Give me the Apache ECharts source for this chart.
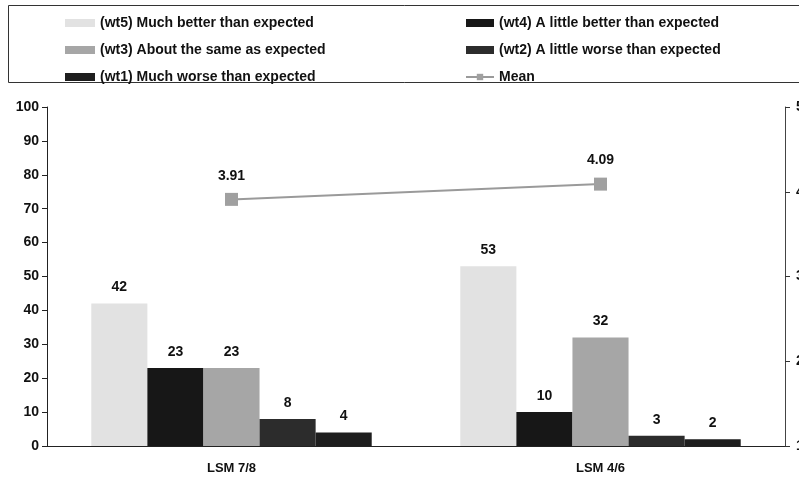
<!DOCTYPE html>
<html><head><meta charset="utf-8">
<script src="https://cdn.jsdelivr.net/npm/echarts@6/dist/echarts.min.js"></script>
<style>html,body{margin:0;padding:0;background:#fff}#c{width:799px;height:480px}</style>
</head><body><div id="c"></div>
<script>
var categories = ['LSM 7/8', 'LSM 4/6'];
var seriesNames = ['(wt5) Much better than expected', '(wt4) A little better than expected', '(wt3) About the same as expected', '(wt2) A little worse than expected', '(wt1) Much worse than expected'];
var wt5 = [42, 53];
var wt4 = [23, 10];
var wt3 = [23, 32];
var wt2 = [8, 3];
var wt1 = [4, 2];
var meanName = 'Mean';
var meanValues = [3.91, 4.09];
var leftTicks = [0, 100, 10];
var rightTicks = [1, 5, 1];

var colors = ['#e2e2e2', '#171717', '#a6a6a6', '#2c2c2c', '#1e1e1e'];
var barData = [wt5, wt4, wt3, wt2, wt1];
var font = 'Liberation Sans, Arial, sans-serif';
var series = barData.map(function (d, i) {
  return {
    name: seriesNames[i], type: 'bar', yAxisIndex: 0, data: d,
    barGap: '0%', barCategoryGap: '24%',
    itemStyle: { color: colors[i] },
    label: { show: true, position: 'top', distance: 9, color: '#111', fontWeight: 'bold', fontSize: 14, fontFamily: font }
  };
});
series.push({
  name: meanName, type: 'line', yAxisIndex: 1, data: meanValues,
  symbol: 'rect', symbolSize: 13,
  lineStyle: { color: '#9a9a9a', width: 2 },
  itemStyle: { color: '#a0a0a0' },
  label: { show: true, position: 'top', distance: 10, color: '#111', fontWeight: 'bold', fontSize: 14, fontFamily: font, formatter: function (p) { return p.value.toFixed(2); } }
});
var legendText = { fontWeight: 'bold', fontSize: 14, fontFamily: font, color: '#111', letterSpacing: 1.2 };
var chart = echarts.init(document.getElementById('c'));
chart.setOption({
  animation: false,
  graphic: [{ type: 'rect', shape: { x: 8.5, y: 5.5, width: 792, height: 77 }, style: { fill: 'none', stroke: '#333', lineWidth: 1 } }],
  legend: [
    { orient: 'vertical', left: 60, top: 11, itemGap: 13, itemWidth: 30, itemHeight: 8, icon: 'rect', textStyle: legendText, data: [seriesNames[0], seriesNames[2], seriesNames[4]] },
    { orient: 'vertical', left: 460, top: 11, itemGap: 13, itemWidth: 28, itemHeight: 8, textStyle: legendText,
      data: [{ name: seriesNames[1], icon: 'rect' }, { name: seriesNames[3], icon: 'rect' }, meanName] }
  ],
  grid: { left: 47, right: 14, top: 107, bottom: 34, containLabel: false, outerBoundsMode: 'none' },
  xAxis: {
    type: 'category', data: categories,
    axisLine: { lineStyle: { color: '#222', width: 1 } },
    axisTick: { show: false },
    axisLabel: { color: '#111', fontWeight: 'bold', fontSize: 13, fontFamily: font, margin: 16, letterSpacing: 0.8 }
  },
  yAxis: [
    { type: 'value', min: leftTicks[0], max: leftTicks[1], interval: leftTicks[2], position: 'left',
      axisLine: { show: true, lineStyle: { color: '#222' } },
      axisTick: { show: true, length: 5, lineStyle: { color: '#222' } },
      splitLine: { show: false },
      axisLabel: { color: '#111', fontWeight: 'bold', fontSize: 14, fontFamily: font, margin: 8 } },
    { type: 'value', min: rightTicks[0], max: rightTicks[1], interval: rightTicks[2], position: 'right',
      axisLine: { show: true, lineStyle: { color: '#444' } },
      axisTick: { show: true, length: 5, inside: false, lineStyle: { color: '#333' } },
      splitLine: { show: false },
      axisLabel: { color: '#111', fontWeight: 'bold', fontSize: 14, fontFamily: font, margin: 11 } }
  ],
  series: series
});
</script></body></html>
